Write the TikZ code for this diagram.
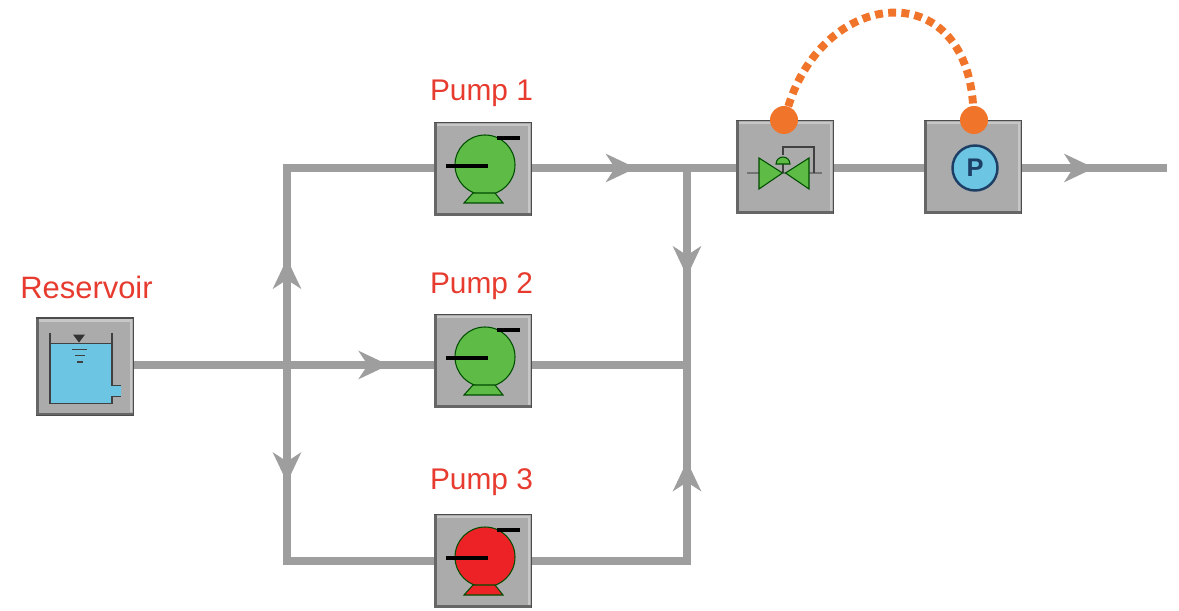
\documentclass[tikz,border=0pt]{standalone}
\usepackage{fontspec}
\setmainfont{Liberation Sans}
\usetikzlibrary{arrows.meta,backgrounds,decorations.markings}
\definecolor{pipegray}{HTML}{9E9E9E}
\definecolor{boxgray}{HTML}{ABABAB}
\definecolor{pumpgreen}{HTML}{5DBB46}
\definecolor{pumpred}{HTML}{EC2227}
\definecolor{labelred}{HTML}{E63B2E}
\definecolor{linkorange}{HTML}{F0752B}
\definecolor{waterblue}{HTML}{6CC5E3}
\definecolor{gaugeblue}{HTML}{1D3F66}
\tikzset{
  unitbox/.style={draw=black!70, fill=boxgray, line width=1pt, minimum width=1.94cm, minimum height=1.86cm, inner sep=0pt},
  unitlabel/.style={text=labelred, font=\fontsize{17}{18}\selectfont},
  pipe/.style={draw=pipegray, line width=4pt, line cap=rect},
  flowtip/.style={postaction={decorate}, decoration={markings, mark=at position #1 with {\arrow{Stealth[length=0.6cm,width=0.56cm,inset=0.18cm,pipegray]}}}},
  linkdot/.style={circle, fill=linkorange, minimum size=0.56cm, inner sep=0pt},
  pics/pumpicon/.style={code={
    \draw[black!70!green, line width=0.6pt, fill=#1] (0.04,0.08) circle (0.6);
    \draw[black!70!green, line width=0.6pt, fill=#1] (-0.2,-0.48) -- (0.24,-0.48) -- (0.4,-0.68) -- (-0.38,-0.68) -- cycle;
    \draw[black, line width=2pt] (0.28,0.62) -- (0.74,0.62);
    \draw[black, line width=2pt] (-0.74,0.06) -- (0.1,0.06);
  }}
}
\begin{document}
\begin{tikzpicture}
  \useasboundingbox (0,0) rectangle (23.58,12.2);

  \node[unitbox, minimum height=1.94cm] (reservoir) at (1.70,4.87) {};
  \node[unitbox] (pump1) at (9.66,8.82) {};
  \node[unitbox] (pump2) at (9.66,4.98) {};
  \node[unitbox] (pump3) at (9.66,0.98) {};
  \node[unitbox] (valve) at (15.70,8.86) {};
  \node[unitbox] (gauge) at (19.46,8.86) {};

  \node[unitlabel, font=\fontsize{17.6}{18}\selectfont] (lreservoir) at (1.73,6.46) {Reservoir};
  \node[unitlabel] (lpump1) at (9.63,10.34) {Pump 1};
  \node[unitlabel] (lpump2) at (9.63,6.47) {Pump 2};
  \node[unitlabel] (lpump3) at (9.63,2.56) {Pump 3};

  % pipe junctions
  \coordinate (lefttop) at (5.74,8.84);
  \coordinate (leftmid) at (5.74,4.90);
  \coordinate (leftbot) at (5.74,0.98);
  \coordinate (righttop) at (13.74,8.84);
  \coordinate (rightmid) at (13.74,4.90);
  \coordinate (rightbot) at (13.74,0.98);
  \coordinate (outlet) at (23.27,8.84);

  \begin{pgfonlayer}{background}
    \draw[pipe, flowtip=0.54] (leftmid) -- (lefttop);
    \draw[pipe, flowtip=0.60] (leftmid) -- (leftbot);
    \draw[pipe] (lefttop) -- (pump1.west |- lefttop);
    \draw[pipe] (leftbot) -- (pump3.west |- leftbot);
    \draw[pipe, flowtip=0.85] (reservoir.east |- leftmid) -- (pump2.west |- leftmid);
    \draw[pipe, flowtip=0.51] (pump1.east |- righttop) -- (valve.west |- righttop);
    \draw[pipe, flowtip=0.55] (righttop) -- (rightmid);
    \draw[pipe, flowtip=0.51] (rightbot) -- (rightmid);
    \draw[pipe] (pump2.east |- rightmid) -- (rightmid);
    \draw[pipe] (pump3.east |- rightbot) -- (rightbot);
    \draw[pipe] (valve.east |- righttop) -- (gauge.west |- righttop);
    \draw[pipe, flowtip=0.51] (gauge.east |- outlet) -- (outlet);
  \end{pgfonlayer}

  % bevels
  \foreach \unit in {reservoir,pump1,pump2,pump3,valve,gauge} {
    \draw[black!60, line width=1.4pt] ([xshift=1pt,yshift=-1pt]\unit.north west) -- ([xshift=1pt,yshift=1pt]\unit.south west) -- ([xshift=-1pt,yshift=1pt]\unit.south east);
    \draw[black!22, line width=1.4pt] ([xshift=2pt,yshift=-2pt]\unit.north west) -- ([xshift=-2pt,yshift=-2pt]\unit.north east) -- ([xshift=-2pt,yshift=2pt]\unit.south east);
  }

  \pic at (pump1) {pumpicon=pumpgreen};
  \pic at (pump2) {pumpicon=pumpgreen};
  \pic at (pump3) {pumpicon=pumpred};

  % tank
  \begin{scope}[shift={(reservoir)}]
    \fill[waterblue] (-0.70,0.46) -- (0.54,0.46) -- (0.54,-0.38) -- (0.72,-0.38) -- (0.72,-0.60) -- (0.54,-0.60) -- (0.54,-0.74) -- (-0.70,-0.74) -- cycle;
    \draw[black!75, line width=0.8pt] (-0.70,0.68) -- (-0.70,-0.74) -- (0.54,-0.74) -- (0.54,-0.60) -- (0.72,-0.60);
    \draw[black!75, line width=0.8pt] (0.54,0.68) -- (0.54,-0.38) -- (0.72,-0.38);
    \draw[black!75, line width=0.8pt] (-0.70,0.46) -- (0.54,0.46);
    \fill[black!80] (-0.24,0.64) -- (0,0.64) -- (-0.12,0.48) -- cycle;
    \draw[black!75, line width=0.8pt] (-0.26,0.34) -- (0.04,0.34);
    \draw[black!75, line width=0.8pt] (-0.20,0.22) -- (0,0.22);
    \draw[black!75, line width=0.8pt] (-0.16,0.09) -- (-0.04,0.09);
  \end{scope}

  % valve
  \begin{scope}[shift={(valve)}]
    \draw[black!55, line width=0.7pt] (-0.76,-0.12) -- (0.74,-0.12);
    \draw[black!75, line width=0.7pt] (-0.04,0.24) -- (-0.04,0.40) -- (0.58,0.40) -- (0.58,-0.12);
    \draw[black!75, line width=0.7pt] (-0.04,-0.12) -- (-0.04,0.10);
    \draw[black!70!green, line width=0.6pt, fill=pumpgreen] (-0.18,0.06) arc (180:0:0.14) -- cycle;
    \draw[black!70!green, line width=0.6pt, fill=pumpgreen] (-0.52,0.18) -- (-0.52,-0.44) -- (-0.05,-0.12) -- cycle;
    \draw[black!70!green, line width=0.6pt, fill=pumpgreen] (0.48,0.18) -- (0.48,-0.44) -- (0.01,-0.12) -- cycle;
  \end{scope}

  \node[circle, draw=gaugeblue, line width=1.4pt, fill=waterblue, minimum size=0.9cm, inner sep=0pt, text=gaugeblue, font=\fontsize{14.5}{14}\selectfont\bfseries] (gaugep) at (19.50,8.84) {P};

  \node[linkdot] (dotvalve) at (15.68,9.80) {};
  \node[linkdot] (dotgauge) at (19.48,9.80) {};
  \draw[linkorange, line width=4.5pt, dash pattern=on 4.5pt off 3pt] (dotvalve) .. controls (16.5,12.44) and (19.3,12.7) .. (dotgauge);
\end{tikzpicture}
\end{document}
